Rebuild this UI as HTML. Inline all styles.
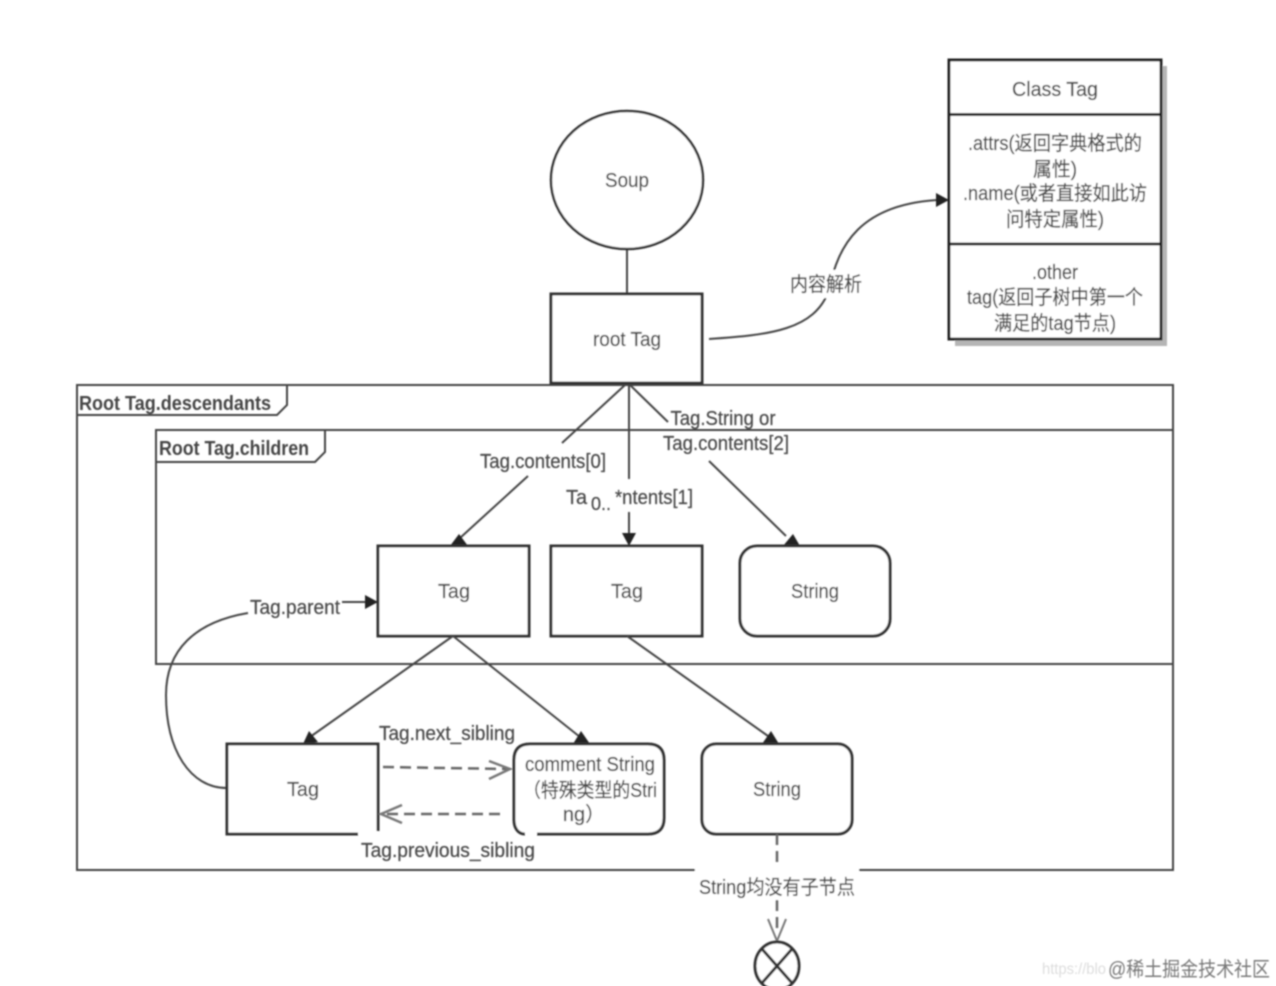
<!DOCTYPE html>
<html lang="zh">
<head>
<meta charset="utf-8">
<title>Diagram</title>
<style>
html,body{margin:0;padding:0;background:#fff;width:1276px;height:986px;overflow:hidden}
svg{display:block}
text{font-family:"Liberation Sans","Noto Sans CJK SC",sans-serif;font-size:20px;fill:#4a4a4a;stroke:#4a4a4a;stroke-width:.25;text-anchor:middle}
.b{font-weight:bold;text-anchor:start;font-size:20px;fill:#444;stroke:none}
.box{fill:#fff;stroke:#333;stroke-width:3}
.thin{fill:none;stroke:#444;stroke-width:2}
.dash{fill:none;stroke:#666;stroke-width:2.5;stroke-dasharray:11 6}
</style>
</head>
<body>
<svg width="1276" height="986" viewBox="0 0 1276 986" xmlns="http://www.w3.org/2000/svg">
<defs><filter id="s" x="-2%" y="-2%" width="104%" height="104%"><feGaussianBlur stdDeviation="0.7"/></filter></defs>
<rect width="1276" height="986" fill="#fff"/>
<g filter="url(#s)">
<!-- frames -->
<rect x="77" y="385" width="1096" height="485" class="thin" fill="none"/>
<path d="M287 385V405L277 415H77" class="thin"/>
<rect x="156" y="430" width="1017" height="234" class="thin"/>
<path d="M325 430V452L315 462H156" class="thin"/>
<text class="b" x="79" y="410" textLength="192" lengthAdjust="spacingAndGlyphs">Root Tag.descendants</text>
<text class="b" x="159" y="455" textLength="150" lengthAdjust="spacingAndGlyphs">Root Tag.children</text>

<!-- class box -->
<rect x="955" y="66" width="212" height="280" fill="#b5b5b5"/>
<rect x="949" y="60" width="212" height="279" fill="#fff" stroke="#222" stroke-width="3"/>
<path d="M949 114.500H1161M949 244H1161" stroke="#222" stroke-width="3"/>
<text x="1055" y="96" textLength="86" lengthAdjust="spacingAndGlyphs">Class Tag</text>
<text x="1055" y="150" textLength="174" lengthAdjust="spacingAndGlyphs">.attrs(返回字典格式的</text>
<text x="1055" y="176" textLength="44" lengthAdjust="spacingAndGlyphs">属性)</text>
<text x="1055" y="200" textLength="184" lengthAdjust="spacingAndGlyphs">.name(或者直接如此访</text>
<text x="1055" y="226" textLength="98" lengthAdjust="spacingAndGlyphs">问特定属性)</text>
<text x="1055" y="279" textLength="46" lengthAdjust="spacingAndGlyphs">.other</text>
<text x="1055" y="304" textLength="176" lengthAdjust="spacingAndGlyphs">tag(返回子树中第一个</text>
<text x="1055" y="330" textLength="122" lengthAdjust="spacingAndGlyphs">满足的tag节点)</text>

<!-- soup -->
<path d="M627 249V293" class="thin"/>
<ellipse cx="627" cy="180" rx="76" ry="69" fill="#fff" stroke="#333" stroke-width="2.500"/>
<text x="627" y="187" textLength="44" lengthAdjust="spacingAndGlyphs">Soup</text>
<rect x="551" y="294" width="151" height="89" class="box"/>
<text x="627" y="346" textLength="68" lengthAdjust="spacingAndGlyphs">root Tag</text>

<!-- curve to class -->
<path d="M709 339C770 335 815 330 829 290C838 245 860 205 937 200" class="thin"/>
<path d="M949 200L936 193V207Z" fill="#222"/>
<rect x="788" y="270" width="76" height="28" fill="#fff"/>
<text x="826" y="291" textLength="72" lengthAdjust="spacingAndGlyphs">内容解析</text>

<!-- connectors from root -->
<path d="M625 385L562 443M528 476L460 538" class="thin"/>
<path d="M450 546L459 534L468 546Z" fill="#222"/>
<path d="M629 385V479M629 512V538" class="thin"/>
<path d="M622 533H636L629 546Z" fill="#222"/>
<path d="M630 385L668 422M709 461L786 536" class="thin"/>
<path d="M783 546L793 534L800 546Z" fill="#222"/>
<text x="543" y="468" textLength="126" lengthAdjust="spacingAndGlyphs">Tag.contents[0]</text>
<text x="566" y="504" style="text-anchor:start" textLength="21" lengthAdjust="spacingAndGlyphs">Ta</text>
<text x="601" y="510" style="font-size:18px" textLength="20" lengthAdjust="spacingAndGlyphs">0..</text>
<text x="615" y="504" style="text-anchor:start" textLength="78" lengthAdjust="spacingAndGlyphs">*ntents[1]</text>
<text x="723" y="425" textLength="105" lengthAdjust="spacingAndGlyphs">Tag.String or</text>
<text x="726" y="450" textLength="126" lengthAdjust="spacingAndGlyphs">Tag.contents[2]</text>

<!-- row one -->
<rect x="378" y="546" width="151" height="90" class="box"/>
<text x="454" y="598" textLength="32" lengthAdjust="spacingAndGlyphs">Tag</text>
<rect x="551" y="546" width="151" height="90" class="box"/>
<text x="627" y="598" textLength="32" lengthAdjust="spacingAndGlyphs">Tag</text>
<rect x="740" y="546" width="150" height="90" rx="17" class="box"/>
<text x="815" y="598" textLength="48" lengthAdjust="spacingAndGlyphs">String</text>

<!-- Tag.parent curve -->
<path d="M227 788C190 788 166 750 166 695C166 650 195 622 248 613" class="thin"/>
<path d="M342 602H366" class="thin"/>
<path d="M378 602L365 595V609Z" fill="#222"/>
<text x="295" y="614" textLength="90" lengthAdjust="spacingAndGlyphs">Tag.parent</text>

<!-- lower connectors -->
<path d="M453 636L310 737" class="thin"/>
<path d="M303 744L309 731L318 742Z" fill="#222"/>
<path d="M453 636L580 737" class="thin"/>
<path d="M573 744L581 731L590 744Z" fill="#222"/>
<path d="M627 636L768 736" class="thin"/>
<path d="M762 744L771 731L779 744Z" fill="#222"/>

<!-- row two -->
<path d="M358 834H227V744H378V831" class="box" fill="#fff"/>
<text x="303" y="796" textLength="32" lengthAdjust="spacingAndGlyphs">Tag</text>
<path d="M525 834C518 834 514 828 514 820V760Q514 744 530 744H648Q664 744 664 760V818Q664 834 648 834H537" class="box"/>
<text x="590" y="771" textLength="130" lengthAdjust="spacingAndGlyphs">comment String</text>
<text x="590" y="797" textLength="134" lengthAdjust="spacingAndGlyphs">（特殊类型的Stri</text>
<text x="584" y="821">ng）</text>
<rect x="702" y="744" width="150" height="90" rx="14" class="box"/>
<text x="777" y="796" textLength="48" lengthAdjust="spacingAndGlyphs">String</text>

<!-- sibling arrows -->
<path d="M383 767L507 769" class="dash" stroke-dasharray="11 5"/>
<path d="M489 761L510 769L489 779" fill="none" stroke="#777" stroke-width="2.500"/>
<path d="M500 814H385" class="dash"/>
<path d="M402 805L381 814L402 823" fill="none" stroke="#777" stroke-width="2.500"/>
<text x="447" y="740" textLength="136" lengthAdjust="spacingAndGlyphs">Tag.next_sibling</text>
<text x="448" y="857" textLength="174" lengthAdjust="spacingAndGlyphs">Tag.previous_sibling</text>

<!-- string to end -->
<path d="M777 834V866M777 900V932" class="dash" stroke-dasharray="12 5" stroke-width="2"/>
<path d="M768 919L777 941L786 919" fill="none" stroke="#777" stroke-width="2"/>
<rect x="695" y="864" width="164" height="10" fill="#fff"/>
<rect x="695" y="872" width="164" height="28" fill="#fff"/>
<text x="777" y="894" textLength="156" lengthAdjust="spacingAndGlyphs">String均没有子节点</text>
<ellipse cx="777" cy="966" rx="22" ry="24" fill="#fff" stroke="#333" stroke-width="3"/>
<path d="M762 949L792 983M792 949L762 983" stroke="#333" stroke-width="3"/>
<text x="1074" y="974" style="font-size:16px;fill:#ddd;stroke:none" textLength="64" lengthAdjust="spacingAndGlyphs">https://blo</text>
<text x="1189" y="976" style="font-size:20px;fill:#777;stroke:none" textLength="162" lengthAdjust="spacingAndGlyphs">@稀土掘金技术社区</text>
</g>
</svg>
</body>
</html>
